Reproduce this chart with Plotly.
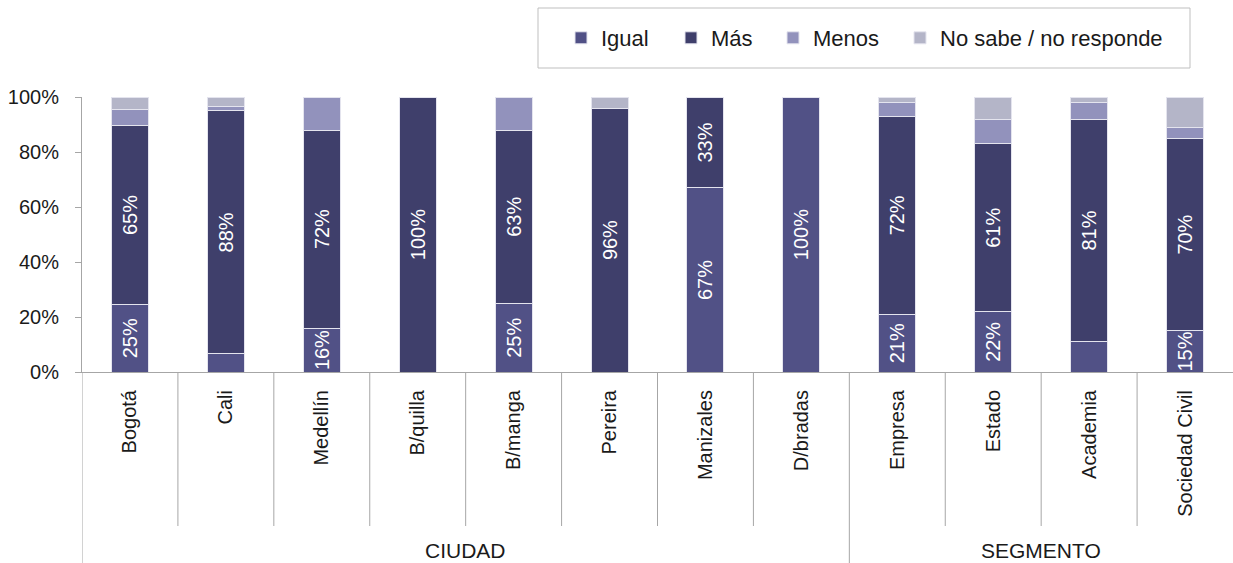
import plotly.graph_objects as go

categories = ["Bogotá", "Cali", "Medellín", "B/quilla", "B/manga", "Pereira",
              "Manizales", "D/bradas", "Empresa", "Estado", "Academia", "Sociedad Civil"]
groups = ["CIUDAD"] * 8 + ["SEGMENTO"] * 4

igual = [24.6, 6.6, 16, 0, 25, 0, 67, 100, 21, 22, 11, 15]
mas = [65, 88.4, 72, 100, 63, 96, 33, 0, 72, 61, 81, 70]
menos = [6, 1.4, 12, 0, 12, 0, 0, 0, 5, 9, 6, 4]
nsnr = [4.4, 3.6, 0, 0, 0, 4, 0, 0, 2, 8, 2, 11]

series_names = ["Igual", "Más", "Menos", "No sabe / no responde"]
series_values = [igual, mas, menos, nsnr]
series_colors = ["#515186", "#3F3F6B", "#9292BC", "#B4B5C8"]
series_labelled = [True, True, False, False]
legend_text_x = [598, 708, 810, 937]  # pixel x where each legend label starts

yticks = [0, 20, 40, 60, 80, 100]
FONT = "Liberation Sans, Arial, sans-serif"
GRID = "#A6A6A6"

W, H = 1233, 563
L, R, T, B = 82, 0, 97, 191
pw, ph = W - L - R, H - T - B

def px_to_py(ypx):
    return (H - B - ypx) / ph

def px_to_px(xpx):
    return (xpx - L) / pw

fig = go.Figure()
legend_layouts = {}
for k, (name, vals, color, labelled) in enumerate(zip(series_names, series_values,
                                                       series_colors, series_labelled)):
    lid = "legend" if k == 0 else f"legend{k + 1}"
    txt = [f"{v:.0f}%" if (labelled and v >= 15) else "" for v in vals]
    fig.add_trace(go.Bar(
        name=name, x=categories, y=vals, text=txt, legend=lid,
        textposition="inside", insidetextanchor="middle", textangle=-90,
        constraintext="none",
        textfont=dict(color="white", size=20, family=FONT),
        marker=dict(color=color, line=dict(color="#E4E4EE", width=1)),
        hoverinfo="skip",
    ))
    legend_layouts[lid] = dict(
        orientation="h", x=px_to_px(legend_text_x[k] - 37), xanchor="left",
        y=px_to_py(38), yanchor="middle",
        font=dict(size=22, color="#1A1A1A", family=FONT),
        bgcolor="rgba(0,0,0,0)", borderwidth=0,
    )

shapes = []
n = len(categories)
for i in range(n):
    pos = i - 0.5
    is_group_edge = i == 0 or groups[i - 1] != groups[i]
    y_end = px_to_py(H) if is_group_edge else px_to_py(526)
    shapes.append(dict(type="line", xref="x", yref="paper", x0=pos, x1=pos,
                       y0=0, y1=y_end, line=dict(color=GRID, width=1)))

# legend box
shapes.append(dict(type="rect", xref="paper", yref="paper",
                   x0=px_to_px(538), x1=px_to_px(1190), y0=px_to_py(68), y1=px_to_py(8),
                   line=dict(color="#BFBFBF", width=1), fillcolor="rgba(0,0,0,0)"))

annotations = []
uniq = []
for g in groups:
    if g not in uniq:
        uniq.append(g)
for g in uniq:
    idx = [i for i, gg in enumerate(groups) if gg == g]
    annotations.append(dict(text=g, xref="x", yref="paper", x=(idx[0] + idx[-1]) / 2,
                            y=px_to_py(550), showarrow=False, yanchor="middle",
                            font=dict(size=21, color="#1A1A1A", family=FONT)))

fig.update_layout(
    barmode="stack", bargap=0.615,
    width=W, height=H,
    margin=dict(l=L, r=R, t=T, b=B, pad=0),
    paper_bgcolor="white", plot_bgcolor="white",
    font=dict(family=FONT, color="#1A1A1A"),
    shapes=shapes, annotations=annotations,
    showlegend=True,
    **legend_layouts,
)
fig.update_xaxes(range=[-0.5, n - 0.5], categoryorder="array", categoryarray=categories,
                 tickangle=-90, showline=True, linecolor=GRID, linewidth=1,
                 ticks="", showgrid=False, ticklabelstandoff=9,
                 tickfont=dict(size=20, color="#1A1A1A", family=FONT))
fig.update_yaxes(range=[0, 100], tickvals=yticks, ticktext=[f"{v}%" for v in yticks],
                 showline=True, linecolor=GRID, linewidth=1, ticks="outside",
                 ticklen=6, tickcolor=GRID, showgrid=False, zeroline=False,
                 ticklabelstandoff=12,
                 tickfont=dict(size=20, color="#1A1A1A", family=FONT))

fig.write_html("out.html", config={"displayModeBar": False},
               post_script="document.body.style.margin='0';document.body.style.padding='0';")
